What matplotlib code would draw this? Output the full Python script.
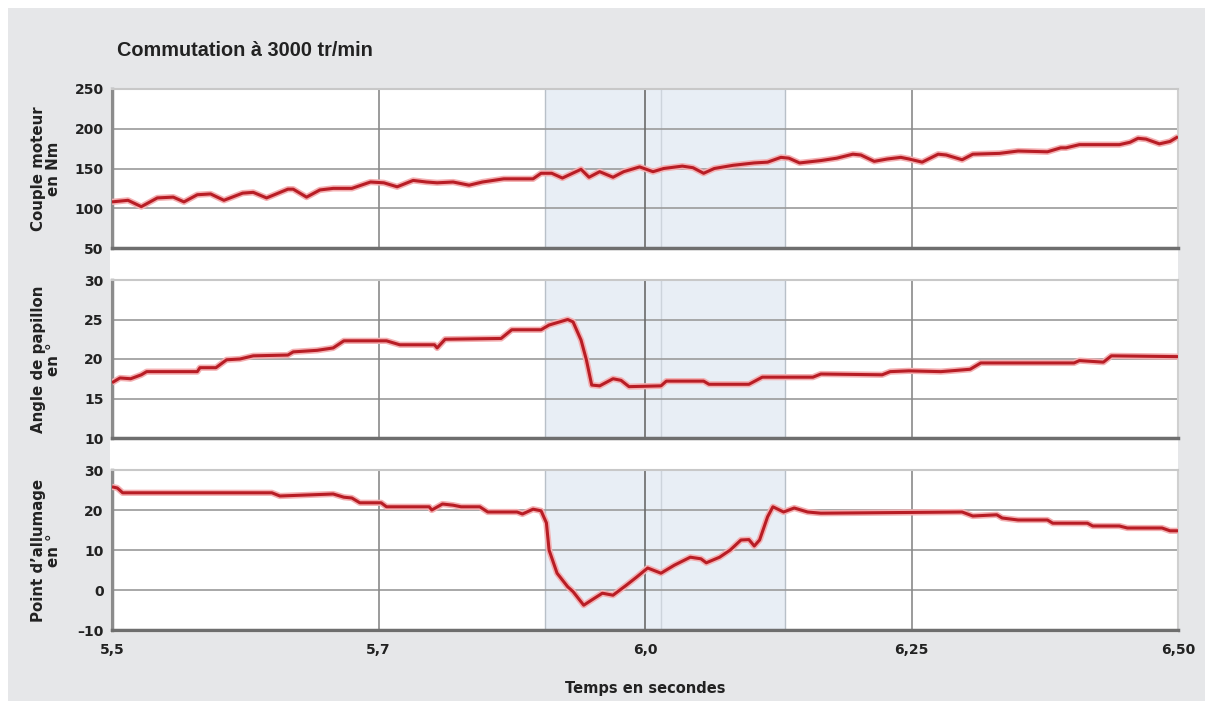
import matplotlib
matplotlib.use("Agg")
import matplotlib.pyplot as plt
from matplotlib.patches import Rectangle

plt.rcParams['font.family'] = ['DejaVu Sans']
plt.rcParams['font.weight'] = 'bold'

# x positions on a segment scale: each tick interval = 100 units
tick_pos = [0, 100, 200, 300, 400]
tick_labels = ["5,5", "5,7", "6,0", "6,25", "6,50"]

# Couple moteur (Nm)
couple_x = [0, 6, 11, 17, 23, 27, 32, 37, 42, 49, 53, 58, 66, 68, 73, 78, 83, 90,
            97, 102, 107, 113, 118, 122, 128, 134, 139, 147, 158, 161, 165, 169,
            176, 179, 183, 188, 192, 198, 203, 207, 214, 218, 222, 226, 233, 241,
            246, 251, 254, 258, 266, 272, 278, 281, 286, 291, 296, 299, 304, 310,
            313, 319, 323, 333, 340, 351, 356, 358, 363, 378, 382, 385, 388, 393,
            397, 400]
couple_y = [108, 110, 102, 113, 114, 108, 117, 118, 110, 119, 120, 113, 124, 124,
            114, 123, 125, 125, 133, 132, 127, 135, 133, 132, 133, 129, 133, 137,
            137, 144, 144, 138, 149, 139, 146, 139, 146, 152, 146, 150, 153, 151,
            144, 150, 154, 157, 158, 164, 163, 157, 160, 163, 168, 167, 159, 162,
            164, 162, 158, 168, 167, 161, 168, 169, 172, 171, 176, 176, 180, 180,
            183, 188, 187, 181, 184, 190]

# Angle de papillon (deg)
angle_x = [0, 3, 7, 11, 13, 32, 33, 39, 43, 48, 53, 66, 68, 77, 83, 87, 103, 108,
           121, 122, 125, 146, 150, 161, 164, 171, 173, 176, 178, 180, 183, 188,
           191, 194, 206, 208, 222, 224, 239, 244, 263, 266, 289, 292, 299, 311,
           322, 326, 361, 363, 372, 375, 400]
angle_y = [17.0, 17.6, 17.5, 18.0, 18.4, 18.4, 18.9, 18.9, 19.9, 20.0, 20.4, 20.5,
           20.9, 21.1, 21.4, 22.3, 22.3, 21.8, 21.8, 21.4, 22.5, 22.6, 23.7, 23.7,
           24.3, 25.0, 24.7, 22.4, 19.9, 16.7, 16.6, 17.5, 17.3, 16.5, 16.6, 17.2,
           17.2, 16.8, 16.8, 17.7, 17.7, 18.1, 18.0, 18.4, 18.5, 18.4, 18.7, 19.5,
           19.5, 19.8, 19.6, 20.4, 20.3]

# Point d'allumage (deg)
allum_x = [0, 2, 4, 60, 63, 83, 87, 90, 93, 101, 103, 119, 120, 124, 128, 131, 138,
           141, 152, 154, 158, 161, 163, 164, 167, 171, 173, 177, 180, 184, 188,
           193, 197, 201, 206, 211, 217, 221, 223, 228, 232, 236, 239, 241, 243,
           246, 248, 252, 256, 261, 266, 319, 323, 332, 334, 340, 351, 353, 366,
           368, 378, 381, 394, 397, 400]
allum_y = [25.8, 25.5, 24.3, 24.3, 23.5, 24.0, 23.2, 23.0, 21.8, 21.8, 20.8, 20.8,
           20.0, 21.5, 21.2, 20.8, 20.8, 19.5, 19.5, 19.0, 20.2, 19.8, 16.8, 10.0,
           4.2, 0.8, -0.4, -3.8, -2.5, -0.8, -1.3, 1.2, 3.3, 5.5, 4.2, 6.2, 8.2,
           7.8, 6.8, 8.2, 10.0, 12.5, 12.6, 11.0, 12.5, 18.3, 20.8, 19.5, 20.5,
           19.5, 19.2, 19.5, 18.5, 18.8, 18.0, 17.5, 17.5, 16.7, 16.7, 16.0, 16.0,
           15.5, 15.5, 14.8, 14.8]

panels = [
    (couple_x, couple_y, (50, 250), [50, 100, 150, 200, 250], "Couple moteur\nen Nm"),
    (angle_x, angle_y, (10, 30), [10, 15, 20, 25, 30], "Angle de papillon\nen °"),
    (allum_x, allum_y, (-10, 30), [-10, 0, 10, 20, 30], "Point d\u2019allumage\nen °"),
]

W, H = 1205, 709
fig = plt.figure(figsize=(W / 100, H / 100), dpi=100)
fig.patch.set_facecolor("white")
fig.patches.append(Rectangle((8 / W, 1 - 701 / H), 1 - 8 / W, 693 / H,
                             transform=fig.transFigure, facecolor="#e6e7e9",
                             edgecolor="none", zorder=-3))
fig.patches.append(Rectangle((110 / W, 1 - 633 / H), 1068 / W, 545 / H,
                             transform=fig.transFigure, facecolor="white",
                             edgecolor="none", zorder=-2))

tops = [89, 280, 470]
bottoms = [248, 438, 630]
left, right = 112, 1178

for i, (xs, ys, ylim, yt, lab) in enumerate(panels):
    ax = fig.add_axes([left / W, 1 - bottoms[i] / H, (right - left) / W,
                       (bottoms[i] - tops[i]) / H])
    ax.set_facecolor("white")
    ax.axvspan(162.5, 252.5, color="#e8eef5", zorder=0, lw=0)
    for xv, c in [(162.5, "#b8c0c8"), (206, "#cdd4dc"), (252.5, "#b8c0c8")]:
        ax.axvline(xv, color=c, lw=1, zorder=1)
    for yv in yt[1:-1]:
        ax.axhline(yv, color="#9a9a9a", lw=1.2, zorder=1)
    for xv, c in [(100, "#8a8a8a"), (200, "#6a6a6a"), (300, "#8a8a8a")]:
        ax.axvline(xv, color=c, lw=1.2, zorder=1)
    ax.plot(xs, ys, color="#f4b0b2", lw=4.5, solid_capstyle="butt",
            solid_joinstyle="round", zorder=3)
    ax.plot(xs, ys, color="#b81d25", lw=2.2, solid_capstyle="butt",
            solid_joinstyle="round", zorder=4)
    ax.set_xlim(0, 400)
    ax.set_ylim(*ylim)
    ax.set_yticks(yt)
    ax.set_yticklabels([str(v).replace("-", "\u2013") for v in yt], fontsize=10,
                       fontweight="bold", color="#222222")
    ax.set_xticks(tick_pos)
    if i == 2:
        ax.set_xticklabels(tick_labels, fontsize=10, fontweight="bold",
                           color="#222222")
    else:
        ax.set_xticklabels([])
    ax.tick_params(axis="y", length=0, pad=6)
    ax.tick_params(axis="x", length=0, pad=9)
    ax.spines["left"].set_color("#8c8c8c")
    ax.spines["left"].set_linewidth(2.5)
    ax.spines["bottom"].set_color("#6e6e6e")
    ax.spines["bottom"].set_linewidth(2.5)
    ax.spines["top"].set_color("#c8c8c8")
    ax.spines["top"].set_linewidth(1.5)
    ax.spines["right"].set_color("#d0d0d0")
    ax.spines["right"].set_linewidth(1.5)
    ax.text(46 / W, 1 - (tops[i] + bottoms[i]) / 2 / H, lab, transform=fig.transFigure,
            rotation=90, ha="center", va="center", fontsize=10.8, fontweight="bold",
            color="#222222", linespacing=1.05)

fig.text(645 / W, 1 - 688 / H, "Temps en secondes", fontsize=10.5,
         fontweight="bold", color="#222222", ha="center", va="center")
fig.text(117 / W, 1 - 50 / H, "Commutation à 3000 tr/min", fontsize=14.3,
         family="Liberation Sans", fontweight="bold", color="#222222",
         ha="left", va="center")

fig.savefig("out.png", dpi=100, facecolor=fig.get_facecolor())
